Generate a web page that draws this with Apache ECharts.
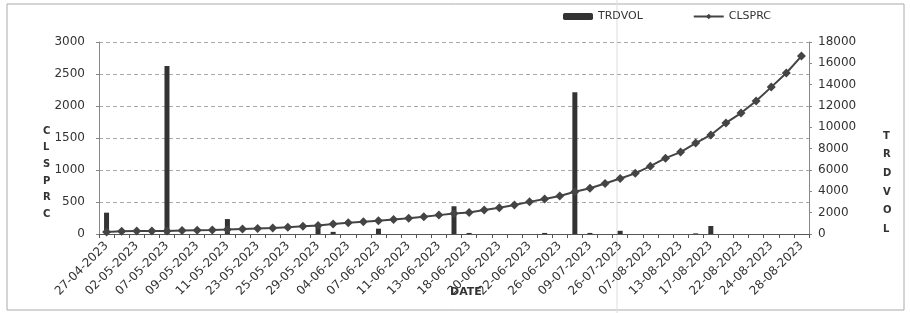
<!DOCTYPE html>
<html>
<head>
<meta charset="utf-8">
<title>CLSPRC / TRDVOL</title>
<script src="https://cdn.jsdelivr.net/npm/echarts@6/dist/echarts.min.js"></script>
<style>
  html, body { margin: 0; padding: 0; background: #fff; }
  #chart { width: 910px; height: 313px; }
</style>
</head>
<body>
<div id="chart"></div>
<script>
// dates on the x axis (only every other one is labelled)
const dates = [
  "27-04-2023", "28-04-2023", "02-05-2023", "04-05-2023", "07-05-2023", "08-05-2023",
  "09-05-2023", "10-05-2023", "11-05-2023", "22-05-2023", "23-05-2023", "24-05-2023",
  "25-05-2023", "26-05-2023", "29-05-2023", "30-05-2023", "04-06-2023", "05-06-2023",
  "07-06-2023", "08-06-2023", "11-06-2023", "12-06-2023", "13-06-2023", "14-06-2023",
  "18-06-2023", "19-06-2023", "20-06-2023", "21-06-2023", "22-06-2023", "23-06-2023",
  "26-06-2023", "05-07-2023", "09-07-2023", "20-07-2023", "26-07-2023", "31-07-2023",
  "07-08-2023", "10-08-2023", "13-08-2023", "16-08-2023", "17-08-2023", "21-08-2023",
  "22-08-2023", "23-08-2023", "24-08-2023", "25-08-2023", "28-08-2023"
];

// closing price (left axis)
const clsprc = [
  30, 42, 45, 45, 48, 55, 60, 63, 70, 78, 85, 92,
  105, 120, 132, 155, 175, 192, 208, 228, 245, 270, 295, 320,
  335, 375, 410, 452, 502, 548, 595, 660, 715, 790, 868, 948,
  1060, 1185, 1280, 1420, 1548, 1735, 1890, 2078, 2295, 2515, 2780
];

// traded volume (right axis)
const trdvol = [
  2000, 0, 0, 0, 15750, 0, 0, 0, 1400, 0, 0, 0,
  0, 0, 900, 200, 0, 0, 500, 0, 0, 0, 0, 2600,
  100, 0, 0, 0, 0, 100, 0, 13300, 100, 0, 300, 0,
  0, 0, 0, 60, 750, 0, 0, 0, 0, 0, 0
];

const leftTicks = { min: 0, max: 3000, interval: 500 };
const rightTicks = { min: 0, max: 18000, interval: 2000 };

const myChart = echarts.init(document.getElementById("chart"));
const font = "DejaVu Sans";

// axis titles drawn as plain text (vertical ones one letter per line)
const title = (txt, x, y, lh, stackIt) => ({
  type: "text",
  left: x,
  top: y,
  silent: true,
  z: 10,
  style: {
    text: stackIt ? txt.split("").join("\n") : txt,
    fontFamily: font,
    fontSize: stackIt ? 10 : 11,
    fontWeight: "bold",
    fill: "#333",
    lineHeight: lh,
    align: "center"
  }
});

const option = {
  animation: false,
  backgroundColor: "#fff",
  textStyle: { fontFamily: font },
  legend: {
    left: 558,
    top: 6,
    itemWidth: 30,
    itemHeight: 7,
    itemGap: 50,
    textStyle: { fontFamily: font, fontSize: 11, color: "#333" },
    data: ["TRDVOL", "CLSPRC"]
  },
  grid: { left: 99, right: 101, top: 42, bottom: 79, outerBoundsMode: "none" },
  xAxis: {
    type: "category",
    data: dates,
    axisLine: { lineStyle: { color: "#555" } },
    axisTick: { show: true, interval: 0, length: 4, lineStyle: { color: "#555" } },
    axisLabel: { interval: 1, rotate: 45, fontSize: 12, color: "#333", margin: 10 }
  },
  yAxis: [
    {
      type: "value",
      ...leftTicks,
      axisLine: { show: true, lineStyle: { color: "#888" } },
      axisTick: { show: true, length: 3, lineStyle: { color: "#888" } },
      axisLabel: { fontSize: 12, color: "#333", margin: 14, formatter: v => String(v) },
      splitLine: { lineStyle: { color: "#aaa", type: [4, 3] } }
    },
    {
      type: "value",
      ...rightTicks,
      axisLine: { show: true, lineStyle: { color: "#888" } },
      axisTick: { show: true, length: 3, lineStyle: { color: "#888" } },
      axisLabel: { fontSize: 12, color: "#333", margin: 9, formatter: v => String(v) },
      splitLine: { show: false }
    }
  ],
  graphic: [
    {
      type: "rect",
      shape: { x: 7, y: 4, width: 897, height: 306 },
      style: { fill: "none", stroke: "#aaa", lineWidth: 1 },
      silent: true
    },
    {
      type: "line",
      shape: { x1: 617, y1: 0, x2: 617, y2: 313 },
      style: { stroke: "#ddd", lineWidth: 1 },
      silent: true
    },
    title("CLSPRC", 43, 123, 16.6, true),
    title("TRDVOL", 883, 127, 18.6, true),
    title("DATE", 450, 286, 12, false)
  ],
  series: [
    {
      name: "TRDVOL",
      type: "bar",
      yAxisIndex: 1,
      barWidth: 5,
      itemStyle: { color: "#333" },
      data: trdvol
    },
    {
      name: "CLSPRC",
      type: "line",
      yAxisIndex: 0,
      symbol: "diamond",
      symbolSize: 9,
      lineStyle: { color: "#444", width: 2 },
      itemStyle: { color: "#444" },
      data: clsprc
    }
  ]
};

myChart.setOption(option);
</script>
</body>
</html>
